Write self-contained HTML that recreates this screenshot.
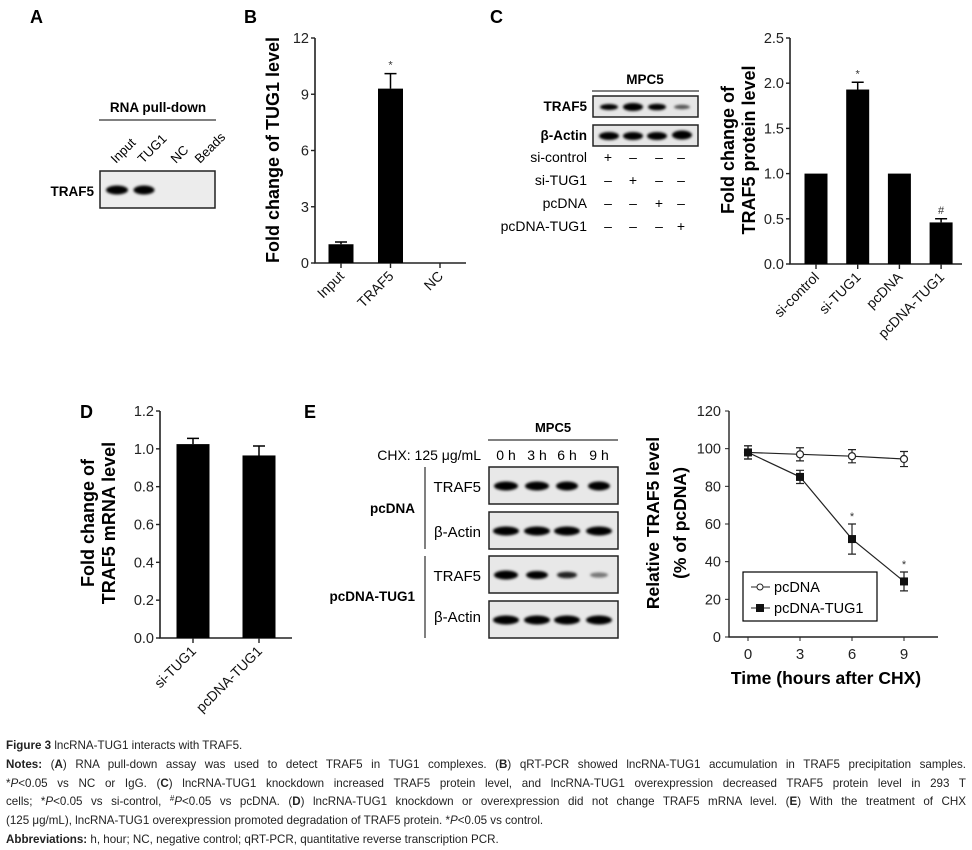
<!DOCTYPE html>
<html><head><meta charset="utf-8"><style>
body{margin:0;background:#fff;width:972px;height:848px;overflow:hidden;position:relative;font-family:"Liberation Sans",sans-serif}
svg{position:absolute;left:0;top:0}
.cap{position:absolute;left:6px;width:960px;font-family:"Liberation Sans Narrow","Liberation Sans",sans-serif;font-size:11.6px;color:#222;line-height:18.8px;top:737px}
.cap div{text-align:justify;text-align-last:justify;white-space:nowrap;overflow:hidden;height:18.8px}
.cap div.l{text-align-last:left}
sup{font-size:8px;line-height:0;vertical-align:4px}
b{font-weight:bold}
</style></head><body>
<svg id="fig" width="972" height="848" viewBox="0 0 972 848" font-family="Liberation Sans, sans-serif">
<defs><filter id="bl" x="-20%" y="-50%" width="140%" height="200%"><feGaussianBlur stdDeviation="1.3"/></filter></defs>
<g font-weight="bold" font-size="18" fill="#000">
<text x="30" y="23">A</text>
<text x="244" y="23">B</text>
<text x="490" y="23">C</text>
<text x="80" y="418">D</text>
<text x="304" y="418">E</text>
</g>
<!-- Panel A blot -->
<g>
<text x="158" y="112" font-weight="bold" font-size="13.5" text-anchor="middle">RNA pull-down</text>
<line x1="99" y1="120" x2="216" y2="120" stroke="#000" stroke-width="1"/>
<g font-size="13">
<text transform="translate(116,164) rotate(-45)">Input</text>
<text transform="translate(143,164) rotate(-45)">TUG1</text>
<text transform="translate(176,164) rotate(-45)">NC</text>
<text transform="translate(200,164) rotate(-45)">Beads</text>
</g>
<text x="94" y="196" font-weight="bold" font-size="13.5" text-anchor="end">TRAF5</text>
<rect x="100" y="171" width="115" height="37" fill="#ececec" stroke="#222" stroke-width="1.5"/>
<ellipse cx="117" cy="190" rx="11" ry="4.5" fill="#000" filter="url(#bl)"/>
<ellipse cx="144" cy="190" rx="10.5" ry="4.5" fill="#000" filter="url(#bl)"/>
</g>
<g id="chartB"></g>
<g id="chartC"></g>
<g id="chartD"></g>
<g id="chartE"></g>
<!-- Panel C blot -->
<g font-size="13.5">
<text x="645" y="84" font-weight="bold" text-anchor="middle">MPC5</text>
<line x1="592" y1="91" x2="699" y2="91" stroke="#000"/>
<text x="587" y="111" font-weight="bold" text-anchor="end">TRAF5</text>
<text x="587" y="140" font-weight="bold" text-anchor="end">β-Actin</text>
<rect x="593" y="96" width="105" height="21" fill="#e6e6e6" stroke="#222" stroke-width="1.5"/>
<rect x="593" y="125" width="105" height="21" fill="#e6e6e6" stroke="#222" stroke-width="1.5"/>
<ellipse cx="609" cy="107" rx="9" ry="3" fill="#000" filter="url(#bl)"/>
<ellipse cx="633" cy="107" rx="10" ry="4" fill="#000" filter="url(#bl)"/>
<ellipse cx="657" cy="107" rx="9" ry="3.3" fill="#000" filter="url(#bl)"/>
<ellipse cx="682" cy="107" rx="8" ry="2.2" fill="#555" filter="url(#bl)"/>
<ellipse cx="609" cy="136" rx="10" ry="4" fill="#000" filter="url(#bl)"/>
<ellipse cx="633" cy="136" rx="10" ry="4" fill="#000" filter="url(#bl)"/>
<ellipse cx="657" cy="136" rx="10" ry="4" fill="#000" filter="url(#bl)"/>
<ellipse cx="682" cy="135" rx="10" ry="4.5" fill="#000" filter="url(#bl)"/>
<g text-anchor="end" font-size="14"><text x="587" y="162">si-control</text><text x="587" y="185">si-TUG1</text><text x="587" y="208">pcDNA</text><text x="587" y="231">pcDNA-TUG1</text></g>
<g text-anchor="middle" font-size="14">
<text x="608" y="162">+</text><text x="633" y="162">–</text><text x="659" y="162">–</text><text x="681" y="162">–</text>
<text x="608" y="185">–</text><text x="633" y="185">+</text><text x="659" y="185">–</text><text x="681" y="185">–</text>
<text x="608" y="208">–</text><text x="633" y="208">–</text><text x="659" y="208">+</text><text x="681" y="208">–</text>
<text x="608" y="231">–</text><text x="633" y="231">–</text><text x="659" y="231">–</text><text x="681" y="231">+</text>
</g>
</g>
<!-- Panel E blot -->
<g font-size="14">
<text x="553" y="432" font-weight="bold" font-size="13" text-anchor="middle">MPC5</text>
<line x1="488" y1="440" x2="618" y2="440" stroke="#000"/>
<text x="481" y="460" text-anchor="end">CHX: 125 μg/mL</text>
<g text-anchor="middle"><text x="506" y="460">0 h</text><text x="537" y="460">3 h</text><text x="567" y="460">6 h</text><text x="599" y="460">9 h</text></g>
<line x1="425" y1="467" x2="425" y2="549" stroke="#000"/>
<line x1="425" y1="556" x2="425" y2="638" stroke="#000"/>
<text x="415" y="513" font-weight="bold" font-size="13.5" text-anchor="end">pcDNA</text>
<text x="415" y="601" font-weight="bold" font-size="13.5" text-anchor="end">pcDNA-TUG1</text>
<g text-anchor="end" font-size="15"><text x="481" y="492">TRAF5</text><text x="481" y="537">β-Actin</text><text x="481" y="581">TRAF5</text><text x="481" y="622">β-Actin</text></g>
<rect x="489" y="467" width="129" height="37" fill="#e8e8e8" stroke="#222" stroke-width="1.5"/>
<rect x="489" y="512" width="129" height="37" fill="#e8e8e8" stroke="#222" stroke-width="1.5"/>
<rect x="489" y="556" width="129" height="37" fill="#e8e8e8" stroke="#222" stroke-width="1.5"/>
<rect x="489" y="601" width="129" height="37" fill="#e8e8e8" stroke="#222" stroke-width="1.5"/>
<g fill="#000" filter="url(#bl)">
<ellipse cx="506" cy="486" rx="12" ry="4.5"/><ellipse cx="537" cy="486" rx="12" ry="4.5"/><ellipse cx="567" cy="486" rx="11" ry="4.5"/><ellipse cx="599" cy="486" rx="11" ry="4.5"/>
<ellipse cx="506" cy="531" rx="13" ry="4.5"/><ellipse cx="537" cy="531" rx="13" ry="4.5"/><ellipse cx="567" cy="531" rx="13" ry="4.5"/><ellipse cx="599" cy="531" rx="13" ry="4.5"/>
<ellipse cx="506" cy="575" rx="12" ry="4.5"/><ellipse cx="537" cy="575" rx="11" ry="4"/><ellipse cx="567" cy="575" rx="10" ry="3.3" fill="#222"/><ellipse cx="599" cy="575" rx="9" ry="2.6" fill="#777"/>
<ellipse cx="506" cy="620" rx="13" ry="4.5"/><ellipse cx="537" cy="620" rx="13" ry="4.5"/><ellipse cx="567" cy="620" rx="13" ry="4.5"/><ellipse cx="599" cy="620" rx="13" ry="4.5"/>
</g>
</g>
</svg>
<div class="cap">
<div class="l"><b>Figure 3</b> lncRNA-TUG1 interacts with TRAF5.</div>
<div><b>Notes:</b> (<b>A</b>) RNA pull-down assay was used to detect TRAF5 in TUG1 complexes. (<b>B</b>) qRT-PCR showed lncRNA-TUG1 accumulation in TRAF5 precipitation samples.</div>
<div>*<i>P</i>&lt;0.05 vs NC or IgG. (<b>C</b>) lncRNA-TUG1 knockdown increased TRAF5 protein level, and lncRNA-TUG1 overexpression decreased TRAF5 protein level in 293 T</div>
<div>cells; *<i>P</i>&lt;0.05 vs si-control, <sup>#</sup><i>P</i>&lt;0.05 vs pcDNA. (<b>D</b>) lncRNA-TUG1 knockdown or overexpression did not change TRAF5 mRNA level. (<b>E</b>) With the treatment of CHX</div>
<div class="l">(125 μg/mL), lncRNA-TUG1 overexpression promoted degradation of TRAF5 protein. *<i>P</i>&lt;0.05 vs control.</div>
<div class="l"><b>Abbreviations:</b> h, hour; NC, negative control; qRT-PCR, quantitative reverse transcription PCR.</div>
</div>
<script>
var bCats=["Input","TRAF5","NC"];
var bVals=[1.0,9.3,0];
var bErr=[0.12,0.8,0];
var bTicks=[0,3,6,9,12];
var cCats=["si-control","si-TUG1","pcDNA","pcDNA-TUG1"];
var cVals=[1.0,1.93,1.0,0.46];
var cErr=[0,0.08,0,0.04];
var cTicks=["0.0","0.5","1.0","1.5","2.0","2.5"];
var dCats=["si-TUG1","pcDNA-TUG1"];
var dVals=[1.025,0.965];
var dErr=[0.03,0.05];
var dTicks=["0.0","0.2","0.4","0.6","0.8","1.0","1.2"];
var eTimes=[0,3,6,9];
var ePc=[98,97,96,94.5];
var ePcErr=[3.5,3.5,3.5,4];
var eTug=[98,85,52,29.5];
var eTugErr=[3.5,3.5,8,5];
var eTicks=[0,20,40,60,80,100,120];
var eXTicks=[0,3,6,9];
var NS="http://www.w3.org/2000/svg";
function mk(p,t,a,txt){var e=document.createElementNS(NS,t);for(var k in a)e.setAttribute(k,a[k]);if(txt!==undefined)e.textContent=txt;p.appendChild(e);return e;}
function bar(id,o){
 var g=document.getElementById(id);
 var y=function(v){return o.y0-(v-o.min)/(o.max-o.min)*(o.y0-o.y1);};
 var ax=mk(g,'path',{d:'M'+o.ax+' '+o.y1+'V'+o.y0+'H'+o.xe,stroke:'#222',fill:'none','stroke-width':1.6});
 
 o.ticks.forEach(function(t){var v=parseFloat(t);
  mk(g,'line',{x1:o.ax-4,x2:o.ax,y1:y(v),y2:y(v),stroke:'#222','stroke-width':1.4});
  var tl=mk(g,'text',{x:o.ax-6,y:y(v)+5,'text-anchor':'end','font-size':14.5,fill:'#222'},t);
  });
 o.cats.forEach(function(c,i){var cx=o.x0+i*o.step;var v=o.vals[i];
  if(v>0){var r=mk(g,'rect',{x:cx-o.bw/2,y:y(v),width:o.bw,height:o.y0-y(v),fill:'#000'});
   }
  if(o.err[i]>0){mk(g,'path',{d:'M'+cx+' '+y(v)+'V'+y(v+o.err[i])+'M'+(cx-6)+' '+y(v+o.err[i])+'H'+(cx+6),stroke:'#000','stroke-width':1.5,fill:'none'});}
  if(o.mark&&o.mark[i]){mk(g,'text',{x:cx,y:y(v+o.err[i])-5,'text-anchor':'middle','font-size':11,fill:'#333'},o.mark[i]);}
  mk(g,'line',{x1:cx,x2:cx,y1:o.y0,y2:o.y0+5,stroke:'#222','stroke-width':1.4});
  var l=mk(g,'text',{transform:'translate('+(cx+4)+','+(o.y0+14)+') rotate(-45)','text-anchor':'end','font-size':14,fill:'#111'},c);
  });
 o.ylab.forEach(function(s,k){var t=mk(g,'text',{transform:'translate('+o.lx[k]+','+o.ly+') rotate(-90)','text-anchor':'middle','font-size':o.lfs,'font-weight':'bold'},s);
  });
}
bar('chartB',{ax:315,xe:466,y0:263,y1:38,min:0,max:12,ticks:bTicks.map(String),cats:bCats,vals:bVals,err:bErr,x0:341,step:49.5,bw:25,mark:["","*",""],ylab:["Fold change of TUG1 level"],lx:[279],ly:150,lfs:18});
bar('chartC',{ax:790,xe:962,y0:264,y1:38,min:0,max:2.5,ticks:cTicks,cats:cCats,vals:cVals,err:cErr,x0:816,step:41.7,bw:23,mark:["","*","","#"],ylab:["Fold change of","TRAF5 protein level"],lx:[734,755],ly:150,lfs:18});
bar('chartD',{ax:160,xe:292,y0:638,y1:411,min:0,max:1.2,ticks:dTicks,cats:dCats,vals:dVals,err:dErr,x0:193,step:66,bw:33,ylab:["Fold change of","TRAF5 mRNA level"],lx:[94,115],ly:523,lfs:18});
(function(){
 var g=document.getElementById('chartE');
 var X=function(v){return 748+v/9*156;},Y=function(v){return 637-v/120*226;};
 var ax=mk(g,'path',{d:'M729 '+Y(120)+'V637H938',stroke:'#222',fill:'none','stroke-width':1.4});
 
 eTicks.forEach(function(v){mk(g,'line',{x1:725,x2:729,y1:Y(v),y2:Y(v),stroke:'#222'});
  var t=mk(g,'text',{x:721,y:Y(v)+5,'text-anchor':'end','font-size':14.5,fill:'#222'},String(v));
  });
 eXTicks.forEach(function(v){mk(g,'line',{x1:X(v),x2:X(v),y1:637,y2:641,stroke:'#222'});
  var t=mk(g,'text',{x:X(v),y:659,'text-anchor':'middle','font-size':15,fill:'#222'},String(v));
  });
 function series(vals,errs,filled,name){
  var d=vals.map(function(v,i){return (i?'L':'M')+X(eTimes[i])+' '+Y(v);}).join('');
  var l=mk(g,'path',{d:d,stroke:'#222',fill:'none','stroke-width':1.2});
  
  vals.forEach(function(v,i){var x=X(eTimes[i]);
   mk(g,'path',{d:'M'+x+' '+Y(v-errs[i])+'V'+Y(v+errs[i])+'M'+(x-4)+' '+Y(v-errs[i])+'H'+(x+4)+'M'+(x-4)+' '+Y(v+errs[i])+'H'+(x+4),stroke:'#222',fill:'none','stroke-width':1.2});
   var p=filled?mk(g,'rect',{x:x-4,y:Y(v)-4,width:8,height:8,fill:'#111'}):mk(g,'circle',{cx:x,cy:Y(v),r:3.5,fill:'#fff',stroke:'#222','stroke-width':1.2});
   });
 }
 series(ePc,ePcErr,false,'pcdna');
 series(eTug,eTugErr,true,'pcdna-tug1');
 [2,3].forEach(function(i){mk(g,'text',{x:X(eTimes[i]),y:Y(eTug[i]+eTugErr[i])-4,'text-anchor':'middle','font-size':11,fill:'#333'},'*');});
 var lg=mk(g,'g',{});
 mk(lg,'rect',{x:743,y:572,width:134,height:49,fill:'#fff',stroke:'#000','stroke-width':1.2});
 mk(lg,'line',{x1:751,x2:770,y1:587,y2:587,stroke:'#222'});mk(lg,'circle',{cx:760,cy:587,r:3,fill:'#fff',stroke:'#222'});
 mk(lg,'text',{x:774,y:592,'font-size':14.5},'pcDNA');
 mk(lg,'line',{x1:751,x2:770,y1:608,y2:608,stroke:'#222'});mk(lg,'rect',{x:756,y:604,width:8,height:8,fill:'#111'});
 mk(lg,'text',{x:774,y:613,'font-size':14.5},'pcDNA-TUG1');
 var t1=mk(g,'text',{transform:'translate(659,523) rotate(-90)','text-anchor':'middle','font-size':17.5,'font-weight':'bold'},'Relative TRAF5 level');
 
 var t2=mk(g,'text',{transform:'translate(686,523) rotate(-90)','text-anchor':'middle','font-size':17.5,'font-weight':'bold'},'(% of pcDNA)');
 
 var t3=mk(g,'text',{x:826,y:684,'text-anchor':'middle','font-size':17.5,'font-weight':'bold'},'Time (hours after CHX)');
 
})();
</script>
</body></html>
